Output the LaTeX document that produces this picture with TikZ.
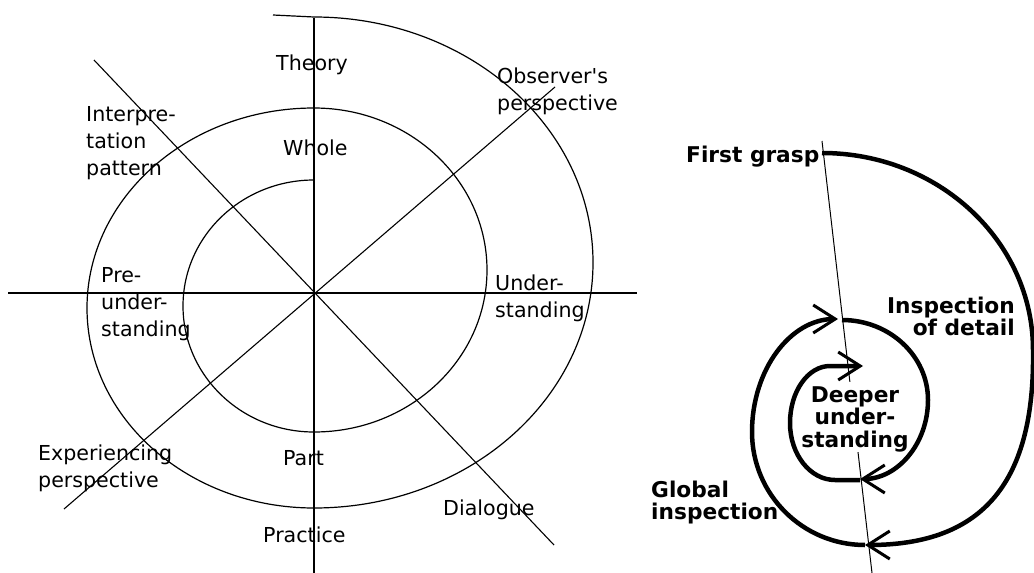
\documentclass[tikz,border=0pt]{standalone}
\usepackage{fontspec}
\setmainfont{DejaVu Sans}
\newfontfamily\lblfont{DejaVu Sans}
\usetikzlibrary{arrows.meta}
\newcommand{\lblstrut}{\rule{0pt}{20pt}}
\begin{document}
\begin{tikzpicture}[x=1pt,y=-1pt,
  axisline/.style={line width=1.6pt},
  diagline/.style={line width=1.1pt},
  spiralline/.style={line width=1.2pt},
  guideline/.style={line width=1pt},
  lbl/.style={font=\lblfont\fontsize{20.6}{27}\selectfont, inner sep=0pt, anchor=north west, align=left},
  blbl/.style={font=\fontsize{21.7}{22.5}\selectfont\bfseries, inner sep=0pt},
  heavy/.style={line width=4.5pt, -{Straight Barb[length=22pt,width=28pt,line width=3pt]}}
]
\useasboundingbox (0,0) rectangle (1034,573);

% ---------- left diagram ----------
\coordinate (c) at (314,293);
\coordinate (hl) at (8,293);
\coordinate (hr) at (637,293);
\coordinate (vt) at (314,18);
\coordinate (vb) at (314,573);
\coordinate (da1) at (94,60);
\coordinate (da2) at (554,545);
\coordinate (db1) at (555,87);
\coordinate (db2) at (64,509);
\draw[axisline] (hl) -- (hr);
\draw[axisline] (vt) -- (vb);
\draw[diagline] (da1) -- (da2);
\draw[diagline] (db1) -- (db2);

\coordinate (s0) at (314,180);
\coordinate (send) at (273,15);
\draw[spiralline] (s0)
  arc[start angle=90,end angle=270,x radius=131pt,y radius=126pt]
  arc[start angle=270,end angle=450,x radius=173pt,y radius=162pt]
  arc[start angle=90,end angle=270,x radius=227pt,y radius=200pt]
  arc[start angle=270,end angle=450,x radius=279pt,y radius=245.5pt]
  -- (send);

\node[lbl] (theory) at (276,50) {\lblstrut Theory};
\node[lbl] (obs) at (497,63) {\lblstrut Observer's\\perspective};
\node[lbl] (interp) at (86,101) {\lblstrut Interpre-\\tation\\pattern};
\node[lbl] (whole) at (283,135) {\lblstrut Whole};
\node[lbl] (pre) at (101,262) {\lblstrut Pre-\\under-\\standing};
\node[lbl] (under) at (495,270) {\lblstrut Under-\\standing};
\node[lbl] (exper) at (38,440) {\lblstrut Experiencing\\perspective};
\node[lbl] (part) at (283,445) {\lblstrut Part};
\node[lbl] (practice) at (263,522) {\lblstrut Practice};
\node[lbl] (dialogue) at (443,495) {\lblstrut Dialogue};

% ---------- right diagram ----------
\coordinate (gt) at (822,141);
\coordinate (gb) at (872,573);
\draw[guideline] (gt) -- (gb);

\node[blbl, anchor=north west, align=left] (first) at (686,142) {\lblstrut First grasp};
\node[blbl, anchor=north east, align=right] (insp) at (1015,293) {\lblstrut Inspection\\of detail};
\node[blbl, anchor=north, align=center, fill=white] (deep) at (855,382) {\lblstrut Deeper\\under-\\standing};
\node[blbl, anchor=north west, align=left] (glob) at (651,477) {\lblstrut Global\\inspection};

\coordinate (o1) at (822,153);
\coordinate (o2) at (865,545);
\draw[heavy] (o1)
  arc[start angle=90,end angle=0,x radius=211pt,y radius=197pt]
  .. controls (1035,480) and (985,545) .. (o2);

\coordinate (m2) at (838,319);
\draw[heavy] (o2)
  arc[start angle=270,end angle=180,radius=113pt]
  arc[start angle=180,end angle=90,x radius=86pt,y radius=113pt];

\coordinate (i1) at (842,320);
\draw[heavy] (i1)
  arc[start angle=90,end angle=0,x radius=86pt,y radius=80pt]
  arc[start angle=0,end angle=-90,x radius=68pt,y radius=79pt];

\coordinate (n1) at (860,480);
\coordinate (n2) at (835,480);
\coordinate (n3) at (863,366);
\draw[heavy] (n1) -- (n2)
  arc[start angle=270,end angle=180,x radius=45pt,y radius=57pt]
  arc[start angle=180,end angle=90,x radius=40pt,y radius=57pt]
  -- (n3);
\end{tikzpicture}
\end{document}
